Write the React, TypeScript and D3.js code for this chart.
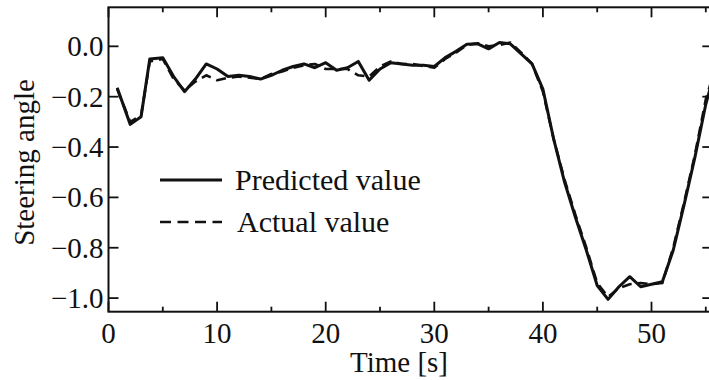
import React from "react";
import * as d3 from "d3";

const times = [0.8, 2, 3, 3.8, 5, 6, 7, 8, 9, 10, 11, 12, 13, 14, 15, 16, 17, 18, 19, 20, 21, 22, 23, 24, 25, 26, 27, 28, 29, 30, 31, 32, 33, 34, 35, 36, 37, 38, 39, 40, 41, 42, 43, 44, 45, 46, 47, 48, 49, 50, 51, 52, 53, 54, 55, 55.7];

const predicted = [-0.165, -0.31, -0.28, -0.05, -0.045, -0.12, -0.18, -0.13, -0.07, -0.09, -0.12, -0.115, -0.12, -0.13, -0.115, -0.095, -0.08, -0.07, -0.085, -0.065, -0.095, -0.085, -0.06, -0.135, -0.09, -0.065, -0.07, -0.075, -0.075, -0.08, -0.045, -0.02, 0.008, 0.01, -0.01, 0.015, 0.01, -0.03, -0.07, -0.17, -0.37, -0.54, -0.68, -0.81, -0.95, -1.005, -0.955, -0.915, -0.955, -0.945, -0.935, -0.81, -0.63, -0.44, -0.23, -0.12];

const actual = [-0.17, -0.3, -0.275, -0.06, -0.05, -0.13, -0.175, -0.14, -0.115, -0.135, -0.125, -0.12, -0.125, -0.13, -0.11, -0.1, -0.085, -0.075, -0.07, -0.09, -0.09, -0.09, -0.115, -0.12, -0.08, -0.06, -0.07, -0.07, -0.078, -0.085, -0.05, -0.025, 0.005, 0.012, 0.0, 0.005, 0.015, -0.025, -0.07, -0.18, -0.37, -0.53, -0.67, -0.8, -0.94, -0.995, -0.96, -0.945, -0.94, -0.945, -0.94, -0.8, -0.62, -0.43, -0.21, -0.11];

const xTicksMajor = [0, 10, 20, 30, 40, 50];
const xTicksMinor = [5, 15, 25, 35, 45, 55];
const yTicks = [0.0, -0.2, -0.4, -0.6, -0.8, -1.0];

const xTitle = "Time [s]";
const yTitle = "Steering angle";
const legendLabels = ["Predicted value", "Actual value"];

const FONT = "'Liberation Serif', 'Times New Roman', serif";

export default function App() {
  const W = 709, H = 380;
  const left = 108.5, top = 7.3, bottom = 311.7;
  const xMax = 55.6;
  const x = d3.scaleLinear().domain([0, xMax]).range([left, left + xMax * 10.86]);
  const right = x(xMax);
  const y = d3.scaleLinear().domain([-1.054, 0.155]).range([bottom, top]);

  const line = d3.line<number>()
    .x((_, i) => x(times[i]))
    .y((d) => y(d));

  const fmt = (v: number) => (v < 0 ? "\u2212" : "") + Math.abs(v).toFixed(1);
  const stroke = "#111";

  return (
    <svg width={W} height={H} style={{ position: "absolute", left: 0, top: 0, background: "#fff" }}>
      <rect x={0} y={0} width={W} height={H} fill="#fff" />
      {/* data */}
      <path d={line(actual) || ""} fill="none" stroke={stroke} strokeWidth={2.6} strokeDasharray="10,6" strokeLinejoin="round" />
      <path d={line(predicted) || ""} fill="none" stroke={stroke} strokeWidth={3} strokeLinejoin="round" />

      {/* frame */}
      <rect x={left} y={top} width={right - left} height={bottom - top} fill="none" stroke={stroke} strokeWidth={2} />

      {/* x ticks */}
      {xTicksMajor.map((t) => (
        <g key={"xM" + t}>
          <line x1={x(t)} x2={x(t)} y1={bottom} y2={bottom - 10} stroke={stroke} strokeWidth={1.8} />
          <line x1={x(t)} x2={x(t)} y1={top} y2={top + 10} stroke={stroke} strokeWidth={1.8} />
          <text x={x(t)} y={343} textAnchor="middle" fontFamily={FONT} fontSize={29} fill={stroke}>{t}</text>
        </g>
      ))}
      {xTicksMinor.map((t) => (
        <g key={"xm" + t}>
          <line x1={x(t)} x2={x(t)} y1={bottom} y2={bottom - 5} stroke={stroke} strokeWidth={1.8} />
          <line x1={x(t)} x2={x(t)} y1={top} y2={top + 5} stroke={stroke} strokeWidth={1.8} />
        </g>
      ))}

      {/* y ticks */}
      {yTicks.map((v) => (
        <g key={"y" + v}>
          <line x1={left} x2={left + 10} y1={y(v)} y2={y(v)} stroke={stroke} strokeWidth={1.8} />
          <line x1={right} x2={right - 10} y1={y(v)} y2={y(v)} stroke={stroke} strokeWidth={1.8} />
          <text x={left - 5} y={y(v)} dy="0.34em" textAnchor="end" fontFamily={FONT} fontSize={29} fill={stroke}>{fmt(v)}</text>
        </g>
      ))}

      {/* axis titles */}
      <text x={399} y={372} textAnchor="middle" fontFamily={FONT} fontSize={29} fill={stroke}>{xTitle}</text>
      <text transform="translate(34,162.5) rotate(-90)" textAnchor="middle" fontFamily={FONT} fontSize={29} fill={stroke}>{yTitle}</text>

      {/* legend */}
      <line x1={160} x2={222} y1={180} y2={180} stroke={stroke} strokeWidth={3} />
      <text x={235} y={190} fontFamily={FONT} fontSize={30} fill={stroke}>{legendLabels[0]}</text>
      <line x1={160} x2={222} y1={222} y2={222} stroke={stroke} strokeWidth={2.6} strokeDasharray="11,6.5" />
      <text x={237} y={232} fontFamily={FONT} fontSize={30} fill={stroke}>{legendLabels[1]}</text>
    </svg>
  );
}
